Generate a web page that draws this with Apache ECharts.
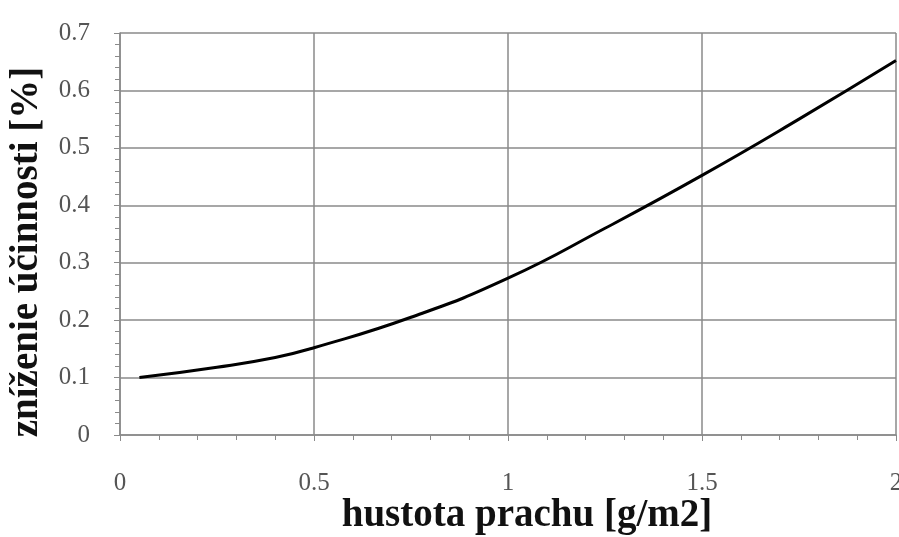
<!DOCTYPE html>
<html>
<head>
<meta charset="utf-8">
<script src="https://cdn.jsdelivr.net/npm/echarts@6/dist/echarts.min.js"></script>
<style>
  html, body { margin: 0; padding: 0; background: #fff; }
  #chart { width: 899px; height: 537px; }
</style>
</head>
<body>
<div id="chart"></div>
<script>
const xValues = [0.05, 0.25, 0.4, 0.5, 0.75, 1.0, 1.25, 1.5, 1.75, 2.0]
const yValues = [0.100, 0.118, 0.135, 0.152, 0.205, 0.273, 0.360, 0.452, 0.550, 0.652]
const xTitle = 'hustota prachu [g/m2]'
const yTitle = 'zníženie účinnosti [%]'

const chart = echarts.init(document.getElementById('chart'))

const serif = '"Liberation Serif", "DejaVu Serif", serif'
const gridColor = '#8a8a8a'

const option = {
  backgroundColor: '#fff',
  animation: false,
  grid: { left: 120, right: 3, top: 33, bottom: 102, outerBoundsMode: 'none' },
  xAxis: {
    type: 'value',
    min: 0,
    max: 2,
    interval: 0.5,
    name: xTitle,
    nameLocation: 'middle',
    nameGap: 61,
    nameMoveOverlap: false,
    nameTextStyle: { fontFamily: serif, fontSize: 39, fontWeight: 'bold', color: '#111', padding: [0, 0, 0, 38] },
    axisLine: { show: true, lineStyle: { color: gridColor, width: 1.5 } },
    axisTick: { show: true, length: 6, lineStyle: { color: gridColor } },
    minorTick: { show: true, splitNumber: 5, length: 5, lineStyle: { color: gridColor } },
    axisLabel: { fontFamily: serif, fontSize: 25, color: '#555', margin: 36 },
    splitLine: { show: true, lineStyle: { color: gridColor, width: 1.5 } }
  },
  yAxis: {
    type: 'value',
    min: 0,
    max: 0.7,
    interval: 0.1,
    name: yTitle,
    nameLocation: 'middle',
    nameGap: 74,
    nameTextStyle: { fontFamily: serif, fontSize: 39, fontWeight: 'bold', color: '#111', padding: [0, 36, 0, 0] },
    axisLine: { show: true, lineStyle: { color: gridColor, width: 1.5 } },
    axisTick: { show: true, length: 6, lineStyle: { color: gridColor } },
    minorTick: { show: true, splitNumber: 5, length: 5, lineStyle: { color: gridColor } },
    axisLabel: { fontFamily: serif, fontSize: 25, color: '#555', margin: 30 },
    splitLine: { show: true, lineStyle: { color: gridColor, width: 1.5 } }
  },
  series: [{
    type: 'line',
    data: xValues.map((x, i) => [x, yValues[i]]),
    smooth: true,
    showSymbol: false,
    lineStyle: { color: '#000', width: 3 }
  }]
}

chart.setOption(option)
</script>
</body>
</html>
